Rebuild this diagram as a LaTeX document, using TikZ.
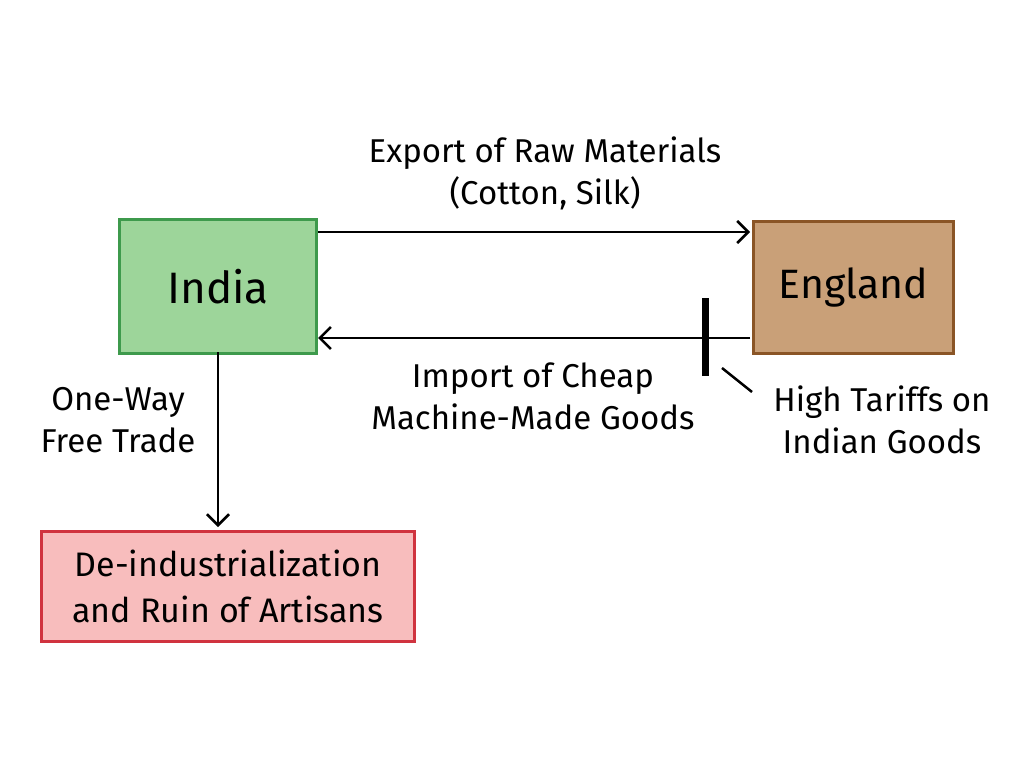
\documentclass[tikz,border=0pt]{standalone}
\usepackage{fontspec}
\setmainfont{Fira Sans}
\usetikzlibrary{arrows.meta}
\begin{document}
\begin{tikzpicture}[x=1pt,y=-1pt,
  box/.style={draw,line width=3pt,inner sep=0pt,anchor=north west,align=center},
  lab/.style={font=\fontsize{33}{42}\selectfont,align=center},
  arr/.style={line width=2.6pt,-{Straight Barb[length=11pt,width=22pt]}}]
\useasboundingbox[fill=white] (0,0) rectangle (1024,768);
\definecolor{gfill}{HTML}{9DD59A}\definecolor{gline}{HTML}{3E9A4C}
\definecolor{bfill}{HTML}{C9A078}\definecolor{bline}{HTML}{8A5526}
\definecolor{rfill}{HTML}{F8BDBD}\definecolor{rline}{HTML}{D0333F}
\node[box,fill=gfill,draw=gline,minimum width=197pt,minimum height=134pt,font=\fontsize{44}{50}\selectfont] (india) at (118,218) {India};
\node[box,fill=bfill,draw=bline,minimum width=200pt,minimum height=132pt,font=\fontsize{41}{48}\selectfont] (eng) at (752,220) {England};
\node[box,fill=rfill,draw=rline,minimum width=373pt,minimum height=110pt,font=\fontsize{34}{46}\selectfont] (deind) at (40,530) {De-industrialization\\and Ruin of Artisans};
\coordinate (a1) at (318,232); \coordinate (a2) at (750,232);
\draw[arr] (a1) -- (a2);
\node[lab] (exp) at (545,173) {Export of Raw Materials\\(Cotton, Silk)};
\coordinate (b1) at (750,338); \coordinate (b2) at (318,338);
\draw[arr] (b1) -- (b2);
\node[lab] (imp) at (533,396) {Import of Cheap\\Machine-Made Goods};
\coordinate (t1) at (705,298); \coordinate (t2) at (705,376);
\draw[line width=7pt] (t1) -- (t2);
\coordinate (l1) at (722,368); \coordinate (l2) at (752,392);
\draw[line width=2.5pt] (l1) -- (l2);
\node[lab] (tar) at (882,420) {High Tariffs on\\Indian Goods};
\coordinate (v1) at (218,352);
\draw[arr] (v1) -- (218,527);
\node[lab] (ow) at (118,420) {One-Way\\Free Trade};
\end{tikzpicture}
\end{document}
